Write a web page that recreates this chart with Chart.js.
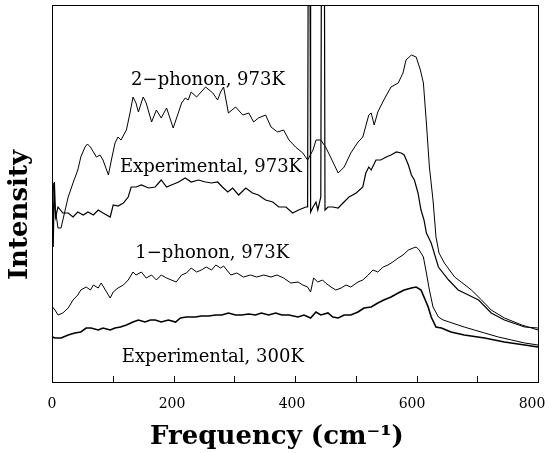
<!DOCTYPE html>
<html>
<head>
<meta charset="utf-8">
<script src="https://cdn.jsdelivr.net/npm/chart.js@4.4.1/dist/chart.umd.min.js"></script>
<style>
  html, body { margin: 0; padding: 0; background: #fff; }
</style>
</head>
<body>
<canvas id="spectra" width="551" height="453"></canvas>
<script>
// --- data (x in cm^-1, intensity in arbitrary units) ---
const twoPhononX = [2,5,10,15,27,35,43,48,55,59,64,69,74,80,85,94,99,105,110,115,124,130,135,140,144,152,157,166,174,182,191,202,211,216,222,227,232,241,256,268,276,281,286,294,306,318,328,336,344,356,365,376,386,395,406,418,426,435,440,448,456,465,477,487,498,510,518,528,532,537,543,553,565,577,585,590,599,607,614,619,624,629,635,640,645,654,671,682,699,716,732,754,783,810];
const twoPhononY = [199,175,154,154,185,199,212,225,235,238,235,230,225,227,222,207,222,239,245,242,252,269,285,279,270,285,279,260,272,264,274,254,270,279,284,282,290,285,295,289,282,290,295,269,275,267,269,260,264,267,255,250,252,242,235,229,222,232,242,242,235,224,209,215,229,240,245,267,269,257,270,282,295,299,309,322,327,325,312,299,259,215,182,145,129,119,105,100,92,82,72,64,57,52];

const exp973X = [0,2,4,6,10,18,27,35,43,52,60,69,77,85,97,102,110,119,127,132,140,149,161,172,182,191,199,211,222,232,244,256,266,276,284,293,301,311,323,334,344,356,368,378,390,401,411,423,426,427,430,431,435,440,443,448,449,454,455,460,468,477,485,495,507,518,523,528,532,540,548,557,565,574,582,587,594,599,604,610,615,620,624,632,644,661,677,694,711,732,754,788,810];
const exp973Y = [240,135,200,165,175,169,169,165,170,167,170,167,172,169,165,177,176,179,185,195,195,197,194,195,202,195,197,200,204,200,202,200,199,200,195,190,194,187,194,189,187,182,180,175,175,169,172,175,175,420,420,170,175,180,172,185,420,420,172,175,175,174,179,185,189,195,209,215,212,222,222,225,227,230,229,227,217,207,202,189,172,162,149,139,115,102,92,87,82,69,62,55,54];

const onePhononX = [1,5,10,18,27,35,43,48,57,64,69,77,82,89,97,102,110,119,127,135,140,149,157,166,174,182,191,199,207,216,224,232,241,249,257,266,273,281,286,298,308,319,331,341,353,365,375,386,398,410,418,426,431,436,443,451,456,465,473,482,490,498,510,518,527,535,543,552,560,568,577,585,594,602,607,612,619,624,629,635,644,652,662,677,687,704,721,744,766,788,810];
const onePhononY = [75,72,67,69,74,82,87,92,95,92,97,94,99,92,84,90,94,97,102,110,107,110,104,107,102,107,104,102,100,107,109,114,110,112,115,112,117,114,116,107,109,105,107,105,107,105,107,104,99,100,97,95,90,104,100,102,99,95,92,94,97,95,100,102,107,112,110,115,117,120,124,127,132,134,135,132,125,109,92,75,65,62,60,57,55,52,49,45,42,39,37];

const exp300X = [1,5,15,27,38,48,57,65,77,85,97,105,114,124,135,144,155,164,172,182,194,206,214,224,239,249,261,273,283,294,306,316,328,339,349,361,373,383,395,410,420,431,440,448,460,468,477,487,498,510,520,532,543,553,565,577,587,599,607,615,620,627,632,640,649,665,687,721,754,788,810];
const exp300Y = [45,44,44,47,49,50,54,54,52,54,52,54,55,57,60,62,60,62,62,60,62,60,64,65,65,66,66,67,67,69,67,67,68,67,69,67,69,67,67,65,67,64,70,67,69,65,64,67,67,70,74,75,79,82,85,89,92,94,95,92,85,75,65,55,54,50,47,44,40,37,35];

const curveLabels = ['2\u2212phonon, 973K', 'Experimental, 973K', '1\u2212phonon, 973K', 'Experimental, 300K'];
const labelX = [260, 265, 267, 268];
const labelY = [302, 215, 129, 25];

const tickLabelValues = [0, 200, 400, 600, 800];

function toPoints(xs, ys) {
    return xs.map((v, i) => ({ x: v, y: ys[i] }));
}

// frame, inward tick marks, tick labels, curve labels and the axis titles
const paperPlugin = {
    id: 'paper',
    afterDatasetsDraw(chart) {
        const { ctx, chartArea: a, scales: { x, y } } = chart;
        ctx.save();
        ctx.strokeStyle = '#000';
        ctx.lineWidth = 1;
        ctx.strokeRect(a.left + 0.5, a.top + 0.5, a.right - a.left, a.bottom - a.top);

        x.ticks.forEach(t => {
            const px = Math.round(x.getPixelForValue(t.value)) + 0.5;
            ctx.beginPath();
            ctx.moveTo(px, a.bottom);
            ctx.lineTo(px, a.bottom - 6);
            ctx.stroke();
        });

        ctx.fillStyle = '#000';
        ctx.textAlign = 'center';
        ctx.textBaseline = 'middle';

        ctx.font = '14px "DejaVu Serif"';
        tickLabelValues.forEach(v => {
            ctx.fillText(String(v), x.getPixelForValue(v), a.bottom + 22);
        });

        ctx.font = '18px "DejaVu Serif"';
        curveLabels.forEach((txt, i) => {
            ctx.fillText(txt, x.getPixelForValue(labelX[i]), y.getPixelForValue(labelY[i]));
        });

        ctx.font = 'bold 26px "DejaVu Serif"';
        ctx.fillText('Frequency (cm\u207B\u00B9)', 277, 437);

        ctx.translate(20, 215);
        ctx.rotate(-Math.PI / 2);
        ctx.fillText('Intensity', 0, 0);
        ctx.restore();
    }
};

const lineStyle = (w) => ({
    borderColor: '#000',
    borderWidth: w,
    pointRadius: 0,
    tension: 0,
    fill: false
});

new Chart(document.getElementById('spectra'), {
    type: 'line',
    data: {
        datasets: [
            { label: '2-phonon, 973K', data: toPoints(twoPhononX, twoPhononY), ...lineStyle(1) },
            { label: 'Experimental, 973K', data: toPoints(exp973X, exp973Y), ...lineStyle(1.2) },
            { label: '1-phonon, 973K', data: toPoints(onePhononX, onePhononY), ...lineStyle(1) },
            { label: 'Experimental, 300K', data: toPoints(exp300X, exp300Y), ...lineStyle(1.6) }
        ]
    },
    options: {
        responsive: false,
        animation: false,
        layout: { padding: { left: 52, top: 5, right: 13, bottom: 0 } },
        plugins: { legend: { display: false }, tooltip: { enabled: false } },
        scales: {
            x: {
                type: 'linear',
                min: 0,
                max: 810,
                grid: { display: false, drawTicks: false },
                border: { display: false },
                afterFit: (scale) => { scale.height = 71; },
                ticks: {
                    display: false,
                    stepSize: 100,
                    includeBounds: false
                }
            },
            y: {
                display: false,
                min: 0,
                max: 377
            }
        }
    },
    plugins: [paperPlugin]
});
</script>
</body>
</html>
